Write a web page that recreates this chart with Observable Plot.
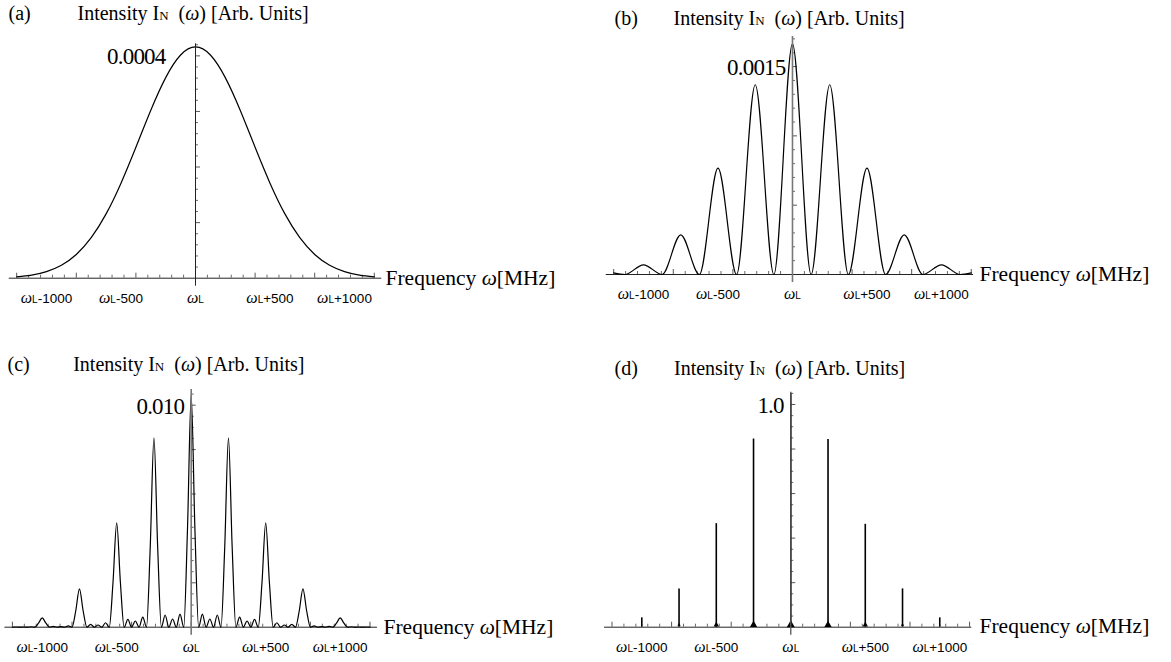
<!DOCTYPE html>
<html><head><meta charset="utf-8">
<script src="https://cdn.jsdelivr.net/npm/d3@7"></script>
<script src="https://cdn.jsdelivr.net/npm/@observablehq/plot@0.6"></script>
<style>
html,body{margin:0;padding:0;background:#fff;}
#page{position:relative;width:1171px;height:662px;overflow:hidden;background:#fff;}
#page > div{position:absolute;left:0;top:0;}
</style></head><body><div id="page"></div>
<script>
// ---------------- data ----------------
const panelLetters = ["(a)", "(b)", "(c)", "(d)"];
const titleText = "Intensity IN\u00A0 (ω) [Arb. Units]";
const axisLabel = "Frequency ω[MHz]";
const tickValues = [-1000, -500, 0, 500, 1000];
const tickLabels = ["ωL-1000", "ωL-500", "ωL", "ωL+500", "ωL+1000"];
const valueLabels = ["0.0004", "0.0015", "0.010", "1.0"];
const valueLabelAt = [0.0004, 0.0015, 0.010, 1.0];

// (a) single pulse spectrum
const freqA = [-1200,-1100,-1000,-900,-800,-700,-600,-500,-400,-300,-200,-100,0,100,200,300,400,500,600,700,800,900,1000,1100,1200];
const intensityA = [0.0000025,0.0000056,0.0000119,0.0000233,0.0000427,0.0000729,0.0001157,0.000171,0.0002355,0.0003021,0.0003608,0.0004015,0.000416,
  0.0004015,0.0003608,0.0003021,0.0002355,0.000171,0.0001157,0.0000729,0.0000427,0.0000233,0.0000119,0.0000056,0.0000025];

// (b) extrema of the curve
const freqB = [-1200,-1125,-1000,-875,-750,-625,-500,-375,-250,-125,0,125,250,375,500,625,750,875,1000,1125,1200];
const intensityB = [0.000012,0,0.00007,0,0.000286,0,0.000767,0,0.001369,0,0.001664,0,0.001369,0,0.000767,0,0.000286,0,0.00007,0,0.000012];

// (c) extrema and lobe points
const freqC = [-1200,-1175,-1150,-1125,-1100,-1075,-1050,-1025,-1000,-975,-950,-925,-900,-875,-850,-825,-800,-775,-750,-725,-700,-675,-650,-625,-600,-575,-550,-525,-500,-475,-450,-425,-400,-375,-350,-325,-300,-275,-250,-225,-200,-175,-150,-125,-100,-75,-50,-25,
  0,25,50,75,100,125,150,175,200,225,250,275,300,325,350,375,400,425,450,475,500,525,550,575,600,625,650,675,700,725,750,775,800,825,850,875,900,925,950,975,1000,1025,1050,1075,1100,1125,1150,1175,1200];
const intensityC = [0,0.00001,0,0.00001,0,0.00002,0,0.00018,0.00042,0.00018,0,0.00004,0,0.00003,0,0.00006,0,0.00073,0.00173,0.00073,0,0.00013,0,0.0001,0,0.0002,0,0.002,0.0047,0.002,0,0.00035,0,0.00028,0,0.00045,0,0.0036,0.00853,0.0036,0,0.00055,0,0.00037,0,0.00059,0,0.0044,
  0.01044,
  0.0044,0,0.00059,0,0.00037,0,0.00055,0,0.0036,0.00853,0.0036,0,0.00045,0,0.00028,0,0.00035,0,0.002,0.0047,0.002,0,0.0002,0,0.0001,0,0.00013,0,0.00073,0.00173,0.00073,0,0.00006,0,0.00003,0,0.00004,0,0.00018,0.00042,0.00018,0,0.00002,0,0.00001,0,0.00001,0];

// (d) spikes
const peakFreqD = [-1000,-750,-500,-250,0,250,500,750,1000];
const peakHeightD = [0.042,0.172,0.465,0.845,1.048,0.843,0.462,0.172,0.042];

// ---------------- layout (page pixels) ----------------
const W = 1171, H = 662;
const layout = [
  {left: 8.75, right: 381.25, top: 43.3, bottom: 277.7, xDomain: [-1250, 1250], yMax: 0.0004217, yMajor: 0.0001, yMinor: 0.00002,
   letterAt: [8, 12.9], titleAt: [77, 12.9], freqAt: [385, 277.5], vGap: 30, vStroke: "#222", vWidth: 1},
  {left: 605.75, right: 973.0, top: 36, bottom: 274, xDomain: [-1250, 1215], yMax: 0.001717, yMajor: 0.0005, yMinor: 0.0001,
   letterAt: [614, 17.9], titleAt: [673, 17.9], freqAt: [979, 273.5], vGap: 7, vStroke: "#777", vWidth: 1.6},
  {left: 4.45, right: 376.95, top: 389, bottom: 626.7, xDomain: [-1250, 1250], yMax: 0.010707, yMajor: 0.002, yMinor: 0.0005,
   letterAt: [7, 364.3], titleAt: [72.7, 364.3], freqAt: [383, 626.5], vGap: 7, vStroke: "#777", vWidth: 1.6},
  {left: 604.05, right: 971.3, top: 391.7, bottom: 626.7, xDomain: [-1250, 1215], yMax: 1.0552, yMajor: 0.2, yMinor: 0.05,
   letterAt: [614, 367.6], titleAt: [673.5, 367.6], freqAt: [979, 626], vGap: 7, vStroke: "#555", vWidth: 1.3}
];

const serif = "Liberation Serif";
const sans = "Liberation Sans";
const tickColor = "#444";

const xMinorTicks = d3.range(-15, 16).filter(k => k % 5 !== 0).map(k => k * 80);
const xMajorTicks = d3.range(-3, 4).map(k => k * 400);

function dataMarks(i) {
  if (i === 0) {
    const rows = freqA.map((f, j) => ({f, v: intensityA[j]}));
    return [Plot.line(rows, {x: "f", y: "v", curve: "natural", stroke: "black", strokeWidth: 1.2})];
  }
  if (i === 1) {
    const rows = freqB.map((f, j) => ({f, v: intensityB[j]}));
    return [Plot.line(rows, {x: "f", y: "v", curve: "monotone-x", stroke: "black", strokeWidth: 1.2})];
  }
  if (i === 2) {
    const rows = freqC.map((f, j) => ({f, v: intensityC[j]}));
    return [Plot.line(rows, {x: "f", y: "v", curve: "monotone-x", stroke: "black", strokeWidth: 1.2})];
  }
  const rows = peakFreqD.map((f, j) => ({f, h: peakHeightD[j]}));
  return [
    Plot.ruleX(rows, {x: "f", y1: 0, y2: "h", stroke: "black", strokeWidth: 1.6}),
    Plot.dot(rows, {x: "f", y: 0, r: "h", symbol: "triangle", fill: "black", stroke: "none", dy: -2.3})
  ];
}

function makePanel(i) {
  const L = layout[i];
  const n = Math.floor(L.yMax / L.yMinor + 1e-6);
  const ratio = Math.round(L.yMajor / L.yMinor);
  const yMinorTicks = d3.range(1, n + 1).filter(k => k % ratio !== 0).map(k => k * L.yMinor);
  const yMajorTicks = d3.range(1, Math.floor(n / ratio) + 1).map(k => k * L.yMajor);
  const rel = ([px, py], anchor) => anchor === "br"
    ? {frameAnchor: "bottom-right", lineAnchor: "middle", dx: px - L.right, dy: py - L.bottom}
    : {frameAnchor: "top-left", lineAnchor: "middle", dx: px - L.left, dy: py - L.top};

  const marks = [
    Plot.ruleY([0], {stroke: "#222", strokeWidth: 1}),
    Plot.ruleX(xMinorTicks, {y1: 0, y2: 0, insetTop: 0, insetBottom: 3, stroke: tickColor, strokeWidth: 0.8}),
    Plot.ruleX(xMajorTicks, {y1: 0, y2: 0, insetTop: 0, insetBottom: 5, stroke: tickColor, strokeWidth: 0.9}),
    Plot.ruleY(yMinorTicks, {x1: 0, x2: 0, insetLeft: 0, insetRight: -3, stroke: tickColor, strokeWidth: 0.8}),
    Plot.ruleY(yMajorTicks, {x1: 0, x2: 0, insetLeft: 0, insetRight: -5, stroke: tickColor, strokeWidth: 0.9}),
    ...dataMarks(i),
    Plot.ruleX([0], {stroke: L.vStroke, strokeWidth: L.vWidth, insetBottom: -8}),
    Plot.text([panelLetters[i]], {...rel(L.letterAt), textAnchor: "start", fontSize: 20, fontFamily: serif, fill: "black"}),
    Plot.text([titleText], {...rel(L.titleAt), textAnchor: "start", fontSize: 20, fontFamily: serif, fill: "black"}),
    Plot.text([axisLabel], {...rel(L.freqAt, "br"), textAnchor: "start", fontSize: 21.5, fontFamily: serif, fill: "black"}),
    Plot.text([valueLabels[i]], {x: 0, y: valueLabelAt[i], dx: -L.vGap, dy: 1, textAnchor: "end", fontSize: 23, fontFamily: serif, fill: "black"}),
    Plot.text(tickValues, {x: d => d, y: 0, text: tickLabels, dy: 20, textAnchor: "middle", fontSize: 13.5, fontFamily: sans, fill: "black"})
  ];

  const opts = {
    width: W, height: H,
    marginLeft: L.left, marginRight: W - L.right, marginTop: L.top, marginBottom: H - L.bottom,
    x: {domain: L.xDomain, axis: null},
    y: {domain: [0, L.yMax], axis: null},
    style: {background: "transparent", overflow: "visible"},
    marks
  };
  if (i === 3) opts.r = {range: [0, 3]};
  const svg = Plot.plot(opts);

  // rich text: italic omega, small-capital N; omega + subscript L on tick labels
  d3.select(svg).selectAll("text").each(function () {
    const t = d3.select(this);
    const s = this.textContent;
    if (s === titleText || s === axisLabel) {
      t.text(null).attr("xml:space", "preserve");
      s.split(/(ω|(?<=I)N)/).filter(p => p.length).forEach(p => {
        const sp = t.append("tspan").text(p);
        if (p === "ω") sp.attr("font-style", "italic");
        else if (p === "N") sp.attr("font-size", "13px");
      });
    } else if (tickLabels.includes(s)) {
      t.text(null);
      t.append("tspan").attr("font-family", serif).attr("font-style", "italic").attr("font-size", "16px").text(s[0]);
      t.append("tspan").attr("font-size", "10px").text(s[1]);
      if (s.length > 2) t.append("tspan").text(s.slice(2));
    } else if (valueLabels.includes(s)) {
      t.attr("letter-spacing", "-0.8px");
    }
  });

  const div = document.createElement("div");
  div.appendChild(svg);
  document.getElementById("page").appendChild(div);
}

for (let i = 0; i < 4; i++) makePanel(i);
</script>
</body></html>
